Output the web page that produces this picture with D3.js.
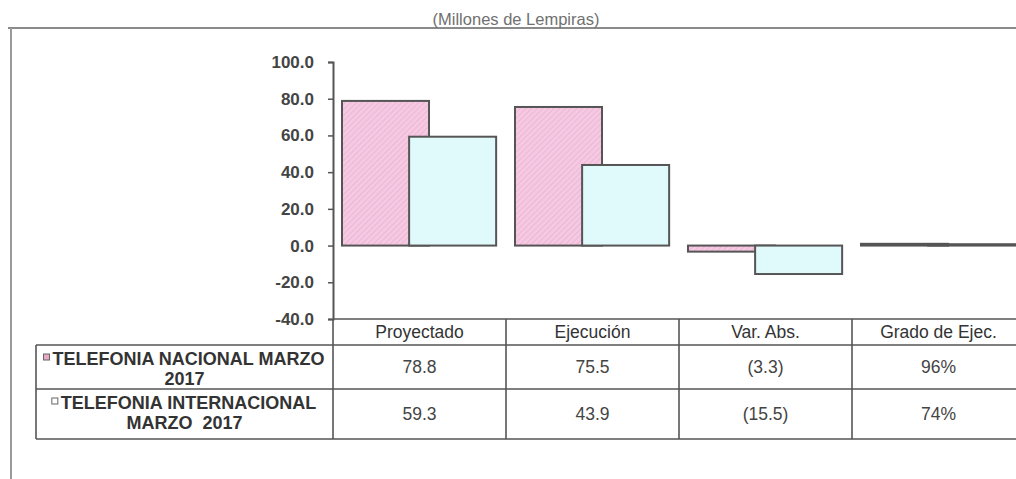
<!DOCTYPE html>
<html>
<head>
<meta charset="utf-8">
<script src="https://cdn.jsdelivr.net/npm/d3@7"></script>
<style>
  body { margin: 0; background: #fff; }
  svg { display: block; font-family: "Liberation Sans", Arial, sans-serif; }
</style>
</head>
<body>
<svg id="chart"></svg>
<script>
// Data
var categories = ["Proyectado", "Ejecución", "Var. Abs.", "Grado de Ejec."];
var seriesNames = [["TELEFONIA NACIONAL MARZO", "2017"], ["TELEFONIA INTERNACIONAL", "MARZO  2017"]];
var nacional = [78.8, 75.5, -3.3, 0.96];
var internacional = [59.3, 43.9, -15.5, 0.74];
var yTicks = [-40, -20, 0, 20, 40, 60, 80, 100];
var title = "(Millones de Lempiras)";

var series = [nacional, internacional];

var width = 1016, height = 479;
var margin = { top: 62, left: 333, bottom: 319 };

var svg = d3.select("#chart")
  .attr("width", width)
  .attr("height", height);

// pink hatch fill
var defs = svg.append("defs");
var pat = defs.append("pattern")
  .attr("id", "hatch")
  .attr("patternUnits", "userSpaceOnUse")
  .attr("width", 4)
  .attr("height", 4)
  .attr("patternTransform", "rotate(45)");
pat.append("rect").attr("width", 4).attr("height", 4).attr("fill", "#f6c9e2");
pat.append("line")
  .attr("x1", 0).attr("y1", 0).attr("x2", 0).attr("y2", 4)
  .attr("stroke", "#e7a9cc").attr("stroke-width", 1.2);

var fills = ["url(#hatch)", "#e0fafc"];
var keyFills = ["#e9a9c9", "#ffffff"];

// outer frame
svg.append("line")
  .attr("x1", 8).attr("y1", 28).attr("x2", width).attr("y2", 28)
  .attr("stroke", "#8a8a8a").attr("stroke-width", 2);
svg.append("line")
  .attr("x1", 11).attr("y1", 28).attr("x2", 11).attr("y2", height)
  .attr("stroke", "#9a9a9a").attr("stroke-width", 2);

svg.append("text")
  .attr("x", 516)
  .attr("y", 25)
  .attr("text-anchor", "middle")
  .attr("font-size", 16.5)
  .attr("fill", "#707070")
  .text(title);

// scales
var x = d3.scaleBand()
  .domain(categories)
  .range([margin.left, margin.left + 173 * categories.length])
  .padding(0);

var y = d3.scaleLinear()
  .domain([-40, 100])
  .range([margin.bottom, margin.top]);

var band = x.bandwidth();
var offset = d3.scaleLinear().domain([0, 1]).range([band * 0.052, band * 0.44]);
var barW = band * 0.503;

// bars
series.forEach(function (vals, i) {
  svg.append("g")
    .selectAll("rect")
    .data(vals)
    .enter().append("rect")
    .attr("x", function (d, j) { return x(categories[j]) + offset(i); })
    .attr("width", barW)
    .attr("y", function (d) { return y(Math.max(0, d)); })
    .attr("height", function (d) { return Math.abs(y(d) - y(0)); })
    .attr("fill", fills[i])
    .attr("stroke", "#555")
    .attr("stroke-width", 2);
});

// y axis
var fmtTick = d3.format(".1f");
var yAxis = svg.append("g")
  .attr("transform", "translate(" + margin.left + ",0)")
  .call(d3.axisLeft(y)
    .tickValues(yTicks)
    .tickFormat(function (d) { return fmtTick(d).replace("\u2212", "-"); })
    .tickSize(5)
    .tickPadding(14));
yAxis.select(".domain").attr("stroke", "#555").attr("stroke-width", 2);
yAxis.selectAll(".tick line").attr("stroke", "#555").attr("stroke-width", 1.5);
yAxis.selectAll(".tick text")
  .attr("font-size", 17)
  .attr("font-weight", "bold")
  .attr("fill", "#444")
  .attr("font-family", "Liberation Sans, Arial, sans-serif");

// data table
var rowY = [319, 345, 389, 439];
var tableLeft = 36;
var right = x.range()[1];
var tbl = svg.append("g").attr("stroke", "#555").attr("stroke-width", 1.6);

tbl.append("line").attr("x1", margin.left).attr("x2", right).attr("y1", rowY[0]).attr("y2", rowY[0]);
rowY.slice(1).forEach(function (ry) {
  tbl.append("line").attr("x1", tableLeft).attr("x2", right).attr("y1", ry).attr("y2", ry);
});
tbl.append("line").attr("x1", tableLeft).attr("x2", tableLeft).attr("y1", rowY[1]).attr("y2", rowY[3]);
categories.forEach(function (c) {
  tbl.append("line")
    .attr("x1", x(c) + band).attr("x2", x(c) + band)
    .attr("y1", rowY[0]).attr("y2", rowY[3]);
});
tbl.append("line").attr("x1", margin.left).attr("x2", margin.left).attr("y1", rowY[0]).attr("y2", rowY[3]);

svg.append("g")
  .selectAll("text")
  .data(categories)
  .enter().append("text")
  .attr("x", function (d) { return x(d) + band / 2; })
  .attr("y", 338)
  .attr("text-anchor", "middle")
  .attr("font-size", 17.5)
  .attr("fill", "#333")
  .text(function (d) { return d; });

var fmtNum = d3.format(".1f");
var formats = [
  fmtNum,
  fmtNum,
  function (v) { return v < 0 ? "(" + fmtNum(-v) + ")" : fmtNum(v); },
  d3.format(".0%")
];

series.forEach(function (vals, i) {
  var top = rowY[i + 1], bot = rowY[i + 2];
  svg.append("g")
    .selectAll("text")
    .data(vals)
    .enter().append("text")
    .attr("x", function (d, j) { return x(categories[j]) + band / 2; })
    .attr("y", (top + bot) / 2 + 6)
    .attr("text-anchor", "middle")
    .attr("font-size", 17.5)
    .attr("fill", "#444")
    .text(function (d, j) { return formats[j](d); });

  // legend label, two lines, first with key
  var cx = (tableLeft + margin.left) / 2;
  var lab = svg.append("text")
    .attr("text-anchor", "middle")
    .attr("font-size", 18)
    .attr("font-weight", "bold")
    .attr("fill", "#333");
  lab.append("tspan")
    .attr("x", cx + 4)
    .attr("y", top + 20)
    .text(seriesNames[i][0]);
  lab.append("tspan")
    .attr("x", cx)
    .attr("y", top + 40)
    .attr("xml:space", "preserve")
    .text(seriesNames[i][1]);

  var w = lab.select("tspan").node().getComputedTextLength();
  svg.append("rect")
    .attr("x", cx + 4 - w / 2 - 9)
    .attr("y", top + 9)
    .attr("width", 6)
    .attr("height", 6)
    .attr("fill", keyFills[i])
    .attr("stroke", "#666")
    .attr("stroke-width", 1);
});
</script>
</body>
</html>
